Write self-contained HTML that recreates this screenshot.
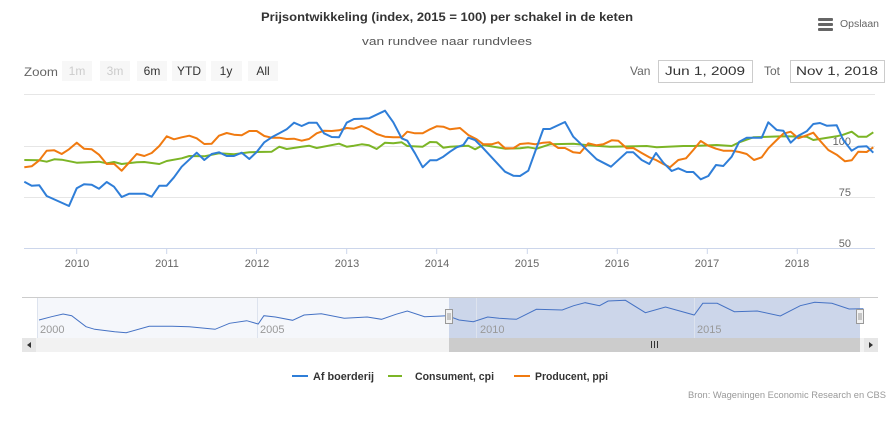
<!DOCTYPE html>
<html><head><meta charset="utf-8"><style>
body{margin:0;background:#fff;}
svg{display:block;font-family:"Liberation Sans",sans-serif;}
</style></head><body>
<svg width="895" height="425" viewBox="0 0 895 425" xmlns="http://www.w3.org/2000/svg">
<rect width="895" height="425" fill="#fff"/>
<text x="447" y="21" text-anchor="middle" font-size="12" font-weight="bold" fill="#333" textLength="372" lengthAdjust="spacingAndGlyphs">Prijsontwikkeling (index, 2015 = 100) per schakel in de keten</text>
<text x="447" y="45" text-anchor="middle" font-size="11" fill="#555" textLength="170" lengthAdjust="spacingAndGlyphs">van rundvee naar rundvlees</text>
<g fill="#666"><rect x="818" y="18" width="15" height="3" rx="1"/><rect x="818" y="23" width="15" height="3" rx="1"/><rect x="818" y="28" width="15" height="3" rx="1"/></g>
<text x="840" y="27" font-size="10" fill="#666" textLength="39" lengthAdjust="spacingAndGlyphs">Opslaan</text>
<text x="24" y="76" font-size="12" fill="#666" textLength="34" lengthAdjust="spacingAndGlyphs">Zoom</text>
<g font-size="12" text-anchor="middle">
<rect x="62" y="61" width="30" height="20" fill="#f7f7f7"/><text x="77" y="75" fill="#ccc">1m</text>
<rect x="100" y="61" width="30" height="20" fill="#f7f7f7"/><text x="115" y="75" fill="#ccc">3m</text>
<rect x="137" y="61" width="30" height="20" fill="#f7f7f7"/><text x="152" y="75" fill="#333">6m</text>
<rect x="172" y="61" width="34" height="20" fill="#f7f7f7"/><text x="189" y="75" fill="#333">YTD</text>
<rect x="211" y="61" width="31" height="20" fill="#f7f7f7"/><text x="226" y="75" fill="#333">1y</text>
<rect x="248" y="61" width="30" height="20" fill="#f7f7f7"/><text x="263" y="75" fill="#333">All</text>
</g>
<text x="630" y="75" font-size="12" fill="#666">Van</text>
<rect x="658.5" y="60.5" width="94" height="22" fill="#fff" stroke="#ccc"/>
<text x="705" y="75" font-size="12" fill="#333" text-anchor="middle" textLength="80" lengthAdjust="spacingAndGlyphs">Jun 1, 2009</text>
<text x="764" y="75" font-size="12" fill="#666">Tot</text>
<rect x="790.5" y="60.5" width="94" height="22" fill="#fff" stroke="#ccc"/>
<text x="837" y="75" font-size="12" fill="#333" text-anchor="middle" textLength="82" lengthAdjust="spacingAndGlyphs">Nov 1, 2018</text>
<!-- grid -->
<g stroke="#e6e6e6" stroke-width="1">
<line x1="24" y1="94.5" x2="875" y2="94.5"/><line x1="24" y1="146.5" x2="875" y2="146.5"/><line x1="24" y1="197.5" x2="875" y2="197.5"/>
</g>
<line x1="24" y1="248.5" x2="875" y2="248.5" stroke="#ccd6eb"/>
<g stroke="#ccd6eb"><line x1="76.7" y1="248" x2="76.7" y2="254"/><line x1="166.7" y1="248" x2="166.7" y2="254"/><line x1="256.5" y1="248" x2="256.5" y2="254"/><line x1="346.7" y1="248" x2="346.7" y2="254"/><line x1="436.7" y1="248" x2="436.7" y2="254"/><line x1="527.3" y1="248" x2="527.3" y2="254"/><line x1="617.3" y1="248" x2="617.3" y2="254"/><line x1="707.3" y1="248" x2="707.3" y2="254"/><line x1="797.3" y1="248" x2="797.3" y2="254"/></g>
<g font-size="11" fill="#666" text-anchor="middle">
<text x="77" y="267">2010</text><text x="167" y="267">2011</text><text x="257" y="267">2012</text><text x="347" y="267">2013</text><text x="437" y="267">2014</text><text x="527" y="267">2015</text><text x="617" y="267">2016</text><text x="707" y="267">2017</text><text x="797" y="267">2018</text>
</g>
<g font-size="11" fill="#666" text-anchor="end">
<text x="851" y="145">100</text><text x="851" y="196">75</text><text x="851" y="247">50</text>
</g>
<g fill="none" stroke-width="2" stroke-linejoin="round">
<polyline stroke="#7cb526" points="24.3,160 39.3,160.3 46.7,161.7 54.3,159.3 61.7,159.7 76.7,162.7 99,161.7 106.7,163.3 114,162 121.7,164 136.7,162.3 144.3,162 159.3,164 166.7,161 181.7,158.3 189.3,156 204.3,156.3 219,153.3 234,154.3 249.3,152.3 256.7,152 271.7,151.7 279.3,146.7 286.7,149 301.7,146.7 309,145.7 316.7,148 339,143.7 346.7,146.7 354,145.7 361.7,144.3 369,145.3 376.7,149 385,142.7 393.3,143.3 401.7,142.3 407.3,146 422.7,146.7 430,142 436.7,142.3 443.3,147.7 450,146.7 468.3,145.7 475,149.3 483.3,145 505,148.7 520,148.3 528.3,147.3 536.7,148.7 550,144.3 573.3,143.7 588.3,145.3 610,146.7 646.7,146 656.7,147.3 683.3,146 693.3,146 716.7,145 731.7,146 739.3,142.3 753.3,137.3 783.3,136.3 806.7,136.7 813.3,140 836.7,136.3 843.3,134.7 851.7,131.7 858.3,136.7 866.7,136.7 873.3,132.3"/>
<polyline stroke="#f07a10" points="24.3,167.3 31.7,166.3 39.3,160.3 46.7,150.7 54.3,150.3 61.7,154 69,149.3 76.7,142.7 84,148.7 91.7,149.3 99,154.7 106.7,164 114,163.7 121.7,170.7 129.3,162.3 136.7,154 144.3,156 151.7,153 159.3,146 166.7,136.3 174,139.3 181.7,137.3 189.3,135.7 196.7,138.3 204.3,144 211.7,143.7 219,135.7 226.7,133 234,134.7 241.7,135.3 249.3,131 256.7,131 264.3,136 271.7,137.7 279.3,137.7 286.7,139 294,138.7 301.7,140.7 309,139 316.7,133.3 324,130.7 331.7,131 339,130.3 346.7,128 354,128.7 361.7,126 369,129.3 376.7,134 385,136.7 393.3,137.3 401.7,137.3 407.3,131.7 415,133.3 422.7,133.3 430,129.3 436.7,126.3 443.3,126.7 450,129.3 460,128 468.3,135 476.7,139.3 483.3,144.3 491.7,144.3 498.3,142.3 505,148.3 513.3,148.3 520,144 528.3,143.3 535,144.3 543.3,142.7 550,142.3 558.3,148 565,148 573.3,152.3 580,153 588.3,143.3 596.7,145.3 603.3,144.3 611.7,140.3 618.3,140.7 626.7,148.3 633.3,148 641.7,153 649.3,157.3 656,160 663.3,164 670,167.3 678.3,160 686,158.3 693.3,150 700.7,141 708.3,145.7 716,148.7 723.3,150.7 731.7,150.7 739.3,152 746.7,154 754,160 761.7,157.3 768.3,148.3 776.7,140 783.3,133.7 790.7,131.7 798.3,138.3 806.7,135.3 813.3,132.7 820,140.7 828.3,150 836.7,154.7 845,161.3 851.7,160.3 858.3,151.7 866.7,152 873.3,147.3"/>
<polyline stroke="#2f7ed8" points="24.3,181.7 31.7,185.7 39.3,185.3 46.7,196 69,206 76.7,188.3 84,184.3 91.7,184.7 99,188.7 106.7,182 114,186.7 121.7,197 129.3,193.7 144.3,193.7 151.7,196.7 159.3,185.7 166.7,185.7 174,177.3 181.7,166.7 196.7,152.7 204.3,160 211.7,154 219,152.3 226.7,156 234,156 241.7,152.7 249.3,159 256.7,152 264.3,142.3 271.7,137.3 279.3,133.3 286.7,129.3 294,122.7 301.7,126 309,122.7 316.7,122.7 324,133.3 331.7,137 339,137.3 346.7,122.7 354,119 361.7,118.7 369,118.3 385,110.7 393.3,122.3 401.7,138.3 407.3,140.7 415,153.3 422.7,167.3 430,160.3 436.7,160.3 443.3,156.7 450,151.7 456.7,147.3 463.3,145 468.3,137.7 475,140 483.3,148.3 505,171.7 513.3,175.7 520,176 528.3,170.7 543.3,129 550,129 565,122 573.3,136.7 596.7,159.3 611,166.7 626.7,152.3 633.3,152.3 641.7,160 649.3,164 656,153 663.3,162.7 671.7,171 678.3,168.3 686.7,172 693.3,172 700.7,179.3 708.3,176 716,165 723.3,166 731.7,156.7 739.3,141.7 746.7,137.7 761.7,137.7 768.3,122.3 776.7,130 783.3,130.7 790.7,142.7 798.3,135.7 806.7,131.3 813.3,124 820,123 826.7,125.7 836.7,125.3 843.3,140 851.7,150.7 858.3,146.7 866.7,146.3 873.3,152.7"/>
</g>
<!-- navigator -->
<line x1="22" y1="297.5" x2="878" y2="297.5" stroke="#ccc"/>
<rect x="37" y="298" width="412" height="40" fill="#f5f7fb"/>
<rect x="449" y="298" width="411" height="40" fill="#ccd6ea"/>
<g stroke="#dde3ee"><line x1="37.5" y1="298" x2="37.5" y2="338"/><line x1="257.5" y1="298" x2="257.5" y2="338"/><line x1="476.5" y1="298" x2="476.5" y2="338"/><line x1="694.5" y1="298" x2="694.5" y2="338"/></g>
<g font-size="11" fill="#999"><text x="40" y="333">2000</text><text x="260" y="333">2005</text><text x="480" y="333">2010</text><text x="697" y="333">2015</text></g>
<polyline fill="none" stroke="#4572c4" stroke-width="1" points="39,320 51.6,316.7 63.1,314 71.7,315.7 86,326.7 94.7,329.3 114.7,331.7 126.2,332.7 149.2,326.3 172.1,326.3 189.3,326.7 215.1,329.3 229.5,323.3 246.7,320.7 258.2,324 263.9,315.7 275.4,317 292.6,320.3 304.1,315 321.3,313.7 344.2,318.3 367.2,317 381.5,319.3 395.9,314.3 407.3,311 424.6,316.7 447.5,315.7 459,320 473.3,321.7 487.7,317 499.1,318.3 516.4,319.3 536.4,309.3 562.2,310 573.7,305.7 585.2,302.7 599.5,305.7 608.1,301 625.4,300.3 645.4,312.7 665.5,307 694.2,315 702.8,303.3 717.2,303.3 734.4,311.7 757.3,311 780.3,316 800.3,305.7 814.7,302.3 831.9,303.3 849.1,309 863.4,308.7"/>
<rect x="445.5" y="309.5" width="7" height="14" fill="#f2f2f2" stroke="#999"/>
<line x1="448" y1="313" x2="448" y2="320" stroke="#999"/><line x1="450" y1="313" x2="450" y2="320" stroke="#999"/>
<rect x="856.5" y="309.5" width="7" height="14" fill="#f2f2f2" stroke="#999"/>
<line x1="859" y1="313" x2="859" y2="320" stroke="#999"/><line x1="861" y1="313" x2="861" y2="320" stroke="#999"/>
<rect x="22" y="338" width="856" height="14" fill="#f2f2f2"/>
<rect x="449" y="338" width="411" height="14" fill="#cccccc"/>
<rect x="22" y="338" width="14" height="14" fill="#e6e6e6"/><rect x="864" y="338" width="14" height="14" fill="#e6e6e6"/>
<path d="M31 342 L27 345 L31 348Z" fill="#333"/><path d="M869 342 L873 345 L869 348Z" fill="#333"/>
<g stroke="#333"><line x1="651.5" y1="341" x2="651.5" y2="348"/><line x1="654.5" y1="341" x2="654.5" y2="348"/><line x1="657.5" y1="341" x2="657.5" y2="348"/></g>
<!-- legend -->
<g stroke-width="2"><line x1="292" y1="376" x2="308" y2="376" stroke="#2f7ed8"/><line x1="388" y1="376" x2="402" y2="376" stroke="#7cb526"/><line x1="514" y1="376" x2="530" y2="376" stroke="#f07a10"/></g>
<g font-size="11" font-weight="bold" fill="#333">
<text x="313" y="380" textLength="61" lengthAdjust="spacingAndGlyphs">Af boerderij</text>
<text x="415" y="380" textLength="79" lengthAdjust="spacingAndGlyphs">Consument, cpi</text>
<text x="535" y="380" textLength="73" lengthAdjust="spacingAndGlyphs">Producent, ppi</text>
</g>
<text x="886" y="398" text-anchor="end" font-size="9" fill="#999" textLength="198" lengthAdjust="spacingAndGlyphs">Bron: Wageningen Economic Research en CBS</text>
</svg>
</body></html>
